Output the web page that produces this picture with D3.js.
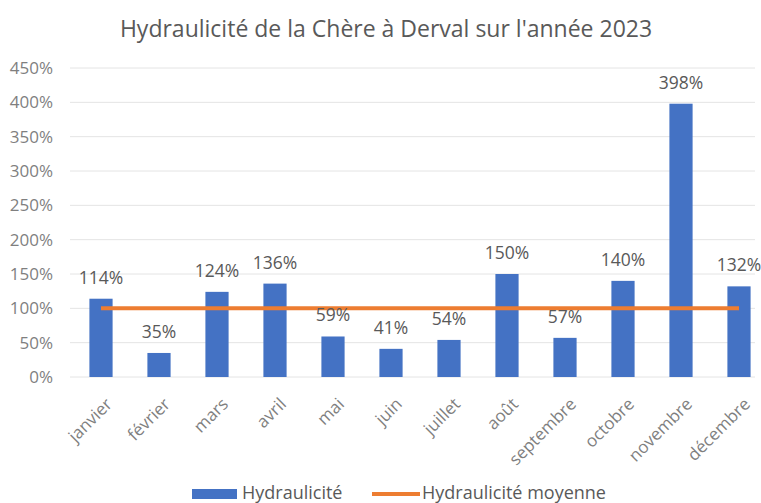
<!DOCTYPE html>
<html>
<head>
<meta charset="utf-8">
<script src="https://cdn.jsdelivr.net/npm/d3@7"></script>
<style>
  body { margin: 0; background: #fff; }
  text { font-family: "Open Sans", sans-serif; }
</style>
</head>
<body>
<div id="chart"></div>
<script>
const months = ["janvier", "février", "mars", "avril", "mai", "juin", "juillet",
                "août", "septembre", "octobre", "novembre", "décembre"];
const hydraulicite = [114, 35, 124, 136, 59, 41, 54, 150, 57, 140, 398, 132];
const moyenne = [100, 100, 100, 100, 100, 100, 100, 100, 100, 100, 100, 100];
const yTicks = [0, 50, 100, 150, 200, 250, 300, 350, 400, 450];

const W = 761, H = 503;
const plot = {left: 72, right: 768, top: 68, bottom: 377};

const svg = d3.select("#chart").append("svg")
    .attr("width", W)
    .attr("height", H);

const x = d3.scaleBand()
  .domain(months)
  .range([plot.left, plot.right])
  .paddingInner(0.6)
  .paddingOuter(0.3);

const y = d3.scaleLinear()
  .domain([0, 450])
  .range([plot.bottom, plot.top]);

// gridlines
svg.append("g")
  .selectAll("line")
  .data(yTicks)
  .enter().append("line")
    .attr("x1", plot.left - 2)
    .attr("x2", 755)
    .attr("y1", d => y(d))
    .attr("y2", d => y(d))
    .attr("stroke", "#e4e4e4")
    .attr("stroke-width", 1);

// y axis labels
const yAxis = svg.append("g")
  .attr("transform", `translate(${plot.left},0)`)
  .call(d3.axisLeft(y).tickValues(yTicks).tickFormat(d => d + "%").tickSize(0).tickPadding(19));
yAxis.select(".domain").remove();
yAxis.selectAll("text")
  .attr("fill", "#7f7f7f")
  .style("font-size", "17px")
  .style("font-family", "Open Sans, sans-serif");

// x axis labels, rotated
const xAxis = svg.append("g")
  .attr("transform", `translate(0,${plot.bottom})`)
  .call(d3.axisBottom(x).tickSize(0));
xAxis.select(".domain").remove();
xAxis.selectAll("text")
  .attr("fill", "#7f7f7f")
  .style("font-size", "17px")
  .style("font-family", "Open Sans, sans-serif")
  .style("text-anchor", "end")
  .attr("x", 0)
  .attr("y", 0)
  .attr("dy", "0.35em")
  .attr("transform", "translate(8,24) rotate(-45)");

// bars
svg.selectAll(".bar")
  .data(hydraulicite)
  .enter().append("rect")
    .attr("class", "bar")
    .attr("x", (d, i) => x(months[i]))
    .attr("y", d => y(d))
    .attr("width", x.bandwidth())
    .attr("height", d => y(0) - y(d))
    .attr("fill", "#4472c4");

// average line
const line = d3.line()
  .x((d, i) => x(months[i]) + x.bandwidth() / 2)
  .y(d => y(d));

svg.append("path")
  .datum(moyenne)
  .attr("fill", "none")
  .attr("stroke", "#ed7d31")
  .attr("stroke-width", 4)
  .attr("d", line);

// data labels
svg.selectAll(".label")
  .data(hydraulicite)
  .enter().append("text")
    .attr("class", "label")
    .attr("x", (d, i) => x(months[i]) + x.bandwidth() / 2)
    .attr("y", d => y(d) - 15)
    .attr("text-anchor", "middle")
    .attr("fill", "#595959")
    .style("font-size", "17.5px")
    .text(d => d + "%");

// title
svg.append("text")
  .attr("x", 386)
  .attr("y", 37)
  .attr("text-anchor", "middle")
  .attr("fill", "#595959")
  .style("font-size", "23px")
  .text("Hydraulicité de la Chère à Derval sur l'année 2023");

// legend
const legend = svg.append("g").attr("transform", "translate(192,494)");
legend.append("rect")
  .attr("x", 0).attr("y", -5)
  .attr("width", 45).attr("height", 10)
  .attr("fill", "#4472c4");
legend.append("text")
  .attr("x", 50).attr("y", 0)
  .attr("dominant-baseline", "middle")
  .attr("fill", "#595959")
  .style("font-size", "18px")
  .text("Hydraulicité");
legend.append("line")
  .attr("x1", 180).attr("x2", 228)
  .attr("y1", 0).attr("y2", 0)
  .attr("stroke", "#ed7d31")
  .attr("stroke-width", 4);
legend.append("text")
  .attr("x", 230).attr("y", 0)
  .attr("dominant-baseline", "middle")
  .attr("fill", "#595959")
  .style("font-size", "18px")
  .text("Hydraulicité moyenne");
</script>
</body>
</html>
